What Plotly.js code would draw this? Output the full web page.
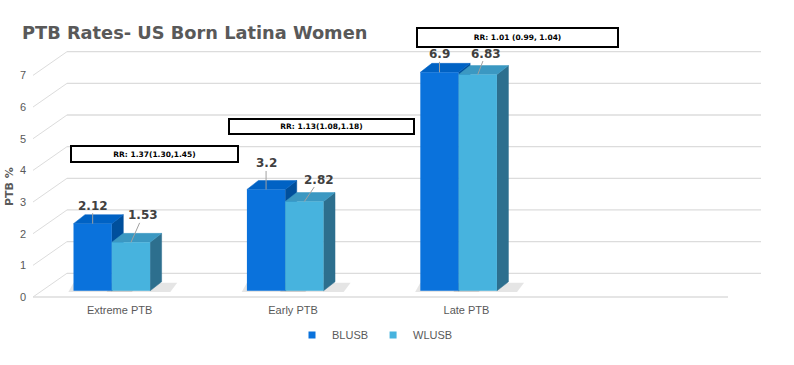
<!DOCTYPE html>
<html>
<head>
<meta charset="utf-8">
<script src="https://cdn.plot.ly/plotly-3.0.1.min.js"></script>
<style>html,body{margin:0;padding:0;background:#fff;}#chart{width:794px;height:365px;}</style>
</head>
<body>
<div id="chart"></div>
<script>
// ---- data ----
const categories = ['Extreme PTB', 'Early PTB', 'Late PTB'];
const seriesNames = ['BLUSB', 'WLUSB'];
const blusb = [2.12, 3.2, 6.9];
const wlusb = [1.53, 2.82, 6.83];
const yTicks = [0, 1, 2, 3, 4, 5, 6, 7];
const rrLabels = ['RR: 1.37(1.30,1.45)', 'RR: 1.13(1.08,1.18)', 'RR: 1.01 (0.99, 1.04)'];
const titleText = 'PTB Rates- US Born Latina Women';
const yTitle = 'PTB %';

// ---- geometry / style ----
const W = 794, H = 365;
const fx = p => p / W;
const fy = p => (H - p) / H;
const xRange = [-0.6448, 3.934];
const yRange = [-2.344, 9.185];
const barW = 0.2209;
const depthX = 0.0663, depthY = 0.284;     // bar depth (data units)
const frontOff = 0.196, backOff = 0.553;   // floor front / back wall offsets
const xs = categories.map((c, i) => i);

const colors = {
  b: {front: '#0a72dc', side: '#004f9c', top: '#0062c4'},
  w: {front: '#47b3de', side: '#2d6f8e', top: '#3b98c2'}
};
const grid = '#dcdcdc';
const txt = '#595959';

const shapes = [];
// back wall gridlines + perspective connectors
yTicks.forEach(k => {
  shapes.push({type: 'line', layer: 'below', xref: 'paper', yref: 'y',
    x0: fx(67), x1: fx(761), y0: k + backOff, y1: k + backOff, line: {color: grid, width: 1.3}});
  shapes.push({type: 'line', layer: 'below', xref: 'paper', yref: 'y',
    x0: fx(33), x1: fx(67), y0: k - frontOff, y1: k + backOff, line: {color: grid, width: 1}});
});
// floor front line
shapes.push({type: 'line', layer: 'below', xref: 'paper', yref: 'y',
  x0: fx(33), x1: fx(728), y0: -frontOff, y1: -frontOff, line: {color: grid, width: 1.3}});

function faces(xl, v, c) {
  const xr = xl + barW;
  // floor shadow
  shapes.push({type: 'path', layer: 'below', xref: 'x', yref: 'y',
    path: `M${xl - 0.03},${-0.04} L${xr + depthX + 0.05},${-0.04} L${xr + depthX + 0.09},${depthY * 0.9} L${xl},${depthY * 0.9} Z`,
    fillcolor: 'rgba(0,0,0,0.10)', line: {width: 0}});
  shapes.push({type: 'path', layer: 'below', xref: 'x', yref: 'y',
    path: `M${xr},0 L${xr + depthX},${depthY} L${xr + depthX},${v + depthY} L${xr},${v} Z`,
    fillcolor: c.side, line: {color: c.side, width: 0.5}});
  shapes.push({type: 'path', layer: 'below', xref: 'x', yref: 'y',
    path: `M${xl},${v} L${xl + depthX},${v + depthY} L${xr + depthX},${v + depthY} L${xr},${v} Z`,
    fillcolor: c.top, line: {color: c.top, width: 0.5}});
}
xs.forEach((x, i) => { faces(x - barW, blusb[i], colors.b); });
xs.forEach((x, i) => { faces(x, wlusb[i], colors.w); });

// data labels
const bOff = [[0, -18], [0, -26], [0, -18]];
const wOff = [[12, -27], [15, -22], [8, -21]];
const annotations = [];
const lblFont = {family: 'DejaVu Sans', size: 12, color: '#404040', weight: 'bold'};
xs.forEach((x, i) => {
  annotations.push({x: x - barW / 2, y: blusb[i], xref: 'x', yref: 'y', text: '<b>' + blusb[i] + '</b>',
    showarrow: true, arrowhead: 0, arrowwidth: 1, arrowcolor: '#a0a0a0', ax: bOff[i][0], ay: bOff[i][1],
    standoff: 0, borderpad: 0, font: lblFont});
  annotations.push({x: x + barW / 2, y: wlusb[i], xref: 'x', yref: 'y', text: '<b>' + wlusb[i] + '</b>',
    showarrow: true, arrowhead: 0, arrowwidth: 1, arrowcolor: '#a0a0a0', ax: wOff[i][0], ay: wOff[i][1],
    standoff: 0, borderpad: 0, font: lblFont});
});
// RR boxes
const rrBoxes = [[70, 239, 145, 163], [228, 415, 118, 135], [416, 619, 27, 48]];
rrLabels.forEach((t, i) => {
  const b = rrBoxes[i];
  annotations.push({xref: 'paper', yref: 'paper', x: fx((b[0] + b[1]) / 2), y: fy((b[2] + b[3]) / 2),
    xanchor: 'center', yanchor: 'middle', showarrow: false, text: '<b>' + t + '</b>',
    width: b[1] - b[0] - 4, height: b[3] - b[2] - 4, bgcolor: '#ffffff', bordercolor: '#000000',
    borderwidth: 2, borderpad: 0, font: {family: 'DejaVu Sans', size: 7.5, color: '#000000'}});
});
// y-axis title
annotations.push({xref: 'paper', yref: 'paper', x: fx(9), y: fy(187), textangle: -90, showarrow: false,
  xanchor: 'center', yanchor: 'middle', text: '<b>' + yTitle + '</b>',
  font: {family: 'DejaVu Sans', size: 11, color: txt}});

const traces = [
  {type: 'bar', name: seriesNames[0], x: xs, y: blusb, offset: -barW, width: barW,
   marker: {color: colors.b.front, line: {width: 0}}, showlegend: false, hoverinfo: 'skip'},
  {type: 'bar', name: seriesNames[1], x: xs, y: wlusb, offset: 0, width: barW,
   marker: {color: colors.w.front, line: {width: 0}}, showlegend: false, hoverinfo: 'skip'},
  {type: 'scatter', mode: 'markers', name: seriesNames[0], x: [null], y: [null],
   marker: {symbol: 'square', size: 7, color: colors.b.front}, hoverinfo: 'skip'},
  {type: 'scatter', mode: 'markers', name: seriesNames[1], x: [null], y: [null],
   marker: {symbol: 'square', size: 7, color: colors.w.front}, hoverinfo: 'skip'},
  {type: 'scatter', mode: 'markers', x: [null], y: [null], yaxis: 'y2', showlegend: false, hoverinfo: 'skip'}
];

const layout = {
  width: W, height: H,
  margin: {l: 0, r: 0, t: 0, b: 0},
  paper_bgcolor: '#ffffff', plot_bgcolor: 'rgba(0,0,0,0)',
  font: {family: 'Liberation Sans', color: txt},
  title: {text: '<b>' + titleText + '</b>', x: fx(22), xanchor: 'left', xref: 'paper',
    y: fy(33), yanchor: 'middle', yref: 'paper',
    font: {family: 'DejaVu Sans', size: 17.8, color: '#595959'}},
  barmode: 'overlay',
  xaxis: {domain: [0, 1], range: xRange, anchor: 'free', position: fy(302),
    tickvals: xs.map(x => x + 0.045), ticktext: categories, ticks: '', showgrid: false,
    zeroline: false, showline: false, tickfont: {size: 11, color: txt, family: 'Liberation Sans'}, fixedrange: true},
  yaxis: {domain: [0, 1], range: yRange, visible: false, showgrid: false, zeroline: false, fixedrange: true},
  yaxis2: {overlaying: 'y', range: [yRange[0] + frontOff, yRange[1] + frontOff], anchor: 'free',
    position: fx(26), side: 'left', tickvals: yTicks, ticks: '', showgrid: false, zeroline: false,
    showline: false, tickfont: {size: 11, color: txt, family: 'Liberation Sans'}, fixedrange: true},
  legend: {orientation: 'h', x: fx(375), xanchor: 'center', y: fy(335), yanchor: 'middle',
    font: {size: 11, color: txt, family: 'Liberation Sans'}, itemwidth: 30, tracegroupgap: 0,
    bgcolor: 'rgba(0,0,0,0)'},
  shapes: shapes,
  annotations: annotations
};

Plotly.newPlot('chart', traces, layout, {displayModeBar: false, staticPlot: true});
</script>
</body>
</html>
